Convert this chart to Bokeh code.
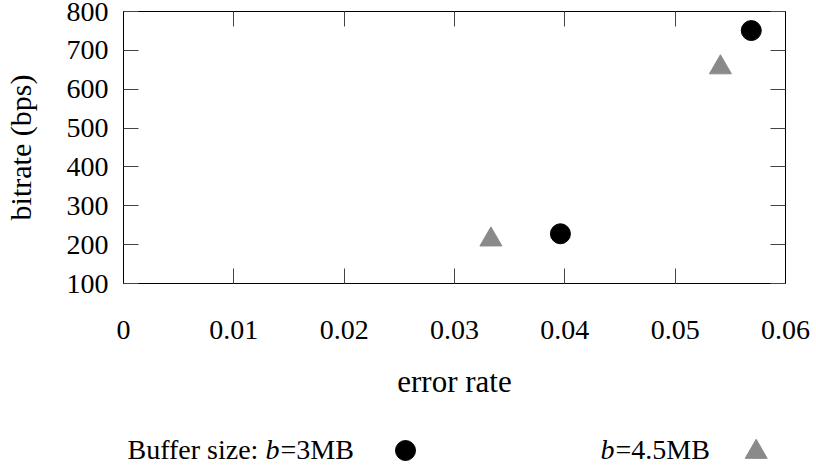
from bokeh.plotting import figure
from bokeh.models import Range1d, FixedTicker, LinearAxis, CustomLabelingPolicy
from bokeh.layouts import column
from bokeh.core.properties import value
from bokeh.embed import file_html
from bokeh.resources import INLINE

# ---- data ----
x_ticks = [0, 0.01, 0.02, 0.03, 0.04, 0.05, 0.06]
x_tick_labels = ["0", "0.01", "0.02", "0.03", "0.04", "0.05", "0.06"]
y_ticks = [100, 200, 300, 400, 500, 600, 700, 800]
y_tick_labels = ["100", "200", "300", "400", "500", "600", "700", "800"]

err_3mb = [0.0396, 0.0569]
bitrate_3mb = [228, 751]
err_45mb = [0.0333, 0.0541]
bitrate_45mb = [213, 656]

x_label = "error rate"
y_label = "bitrate (bps)"
legend_prefix = "Buffer size: "
legend_var = "b"
legend_3mb = "=3MB"
legend_45mb = "=4.5MB"

FONT = "Liberation Serif"
GREY = "#8a8a8a"
TICKC = "#444444"

FRAME_L, FRAME_W, FRAME_T, FRAME_H = 123, 662, 11, 272
W = 812
H1 = 403
LG_H = 63

p = figure(width=W, height=H1, output_backend="svg", toolbar_location=None,
           x_range=Range1d(0, 0.06), y_range=Range1d(100, 800),
           min_border_left=FRAME_L, min_border_right=W - FRAME_L - FRAME_W,
           min_border_top=FRAME_T, min_border_bottom=H1 - FRAME_T - FRAME_H)
p.xgrid.visible = False
p.ygrid.visible = False
p.outline_line_color = "black"
p.outline_line_width = 1
p.outline_line_alpha = 1

no_labels = CustomLabelingPolicy(code="for (const i of indices) indices.unset(i); return indices")

def style_axis(ax, ticks, labels, show):
    ax.ticker = FixedTicker(ticks=ticks)
    ax.major_tick_in = 15
    ax.major_tick_out = 0
    ax.minor_tick_in = 0
    ax.minor_tick_out = 0
    ax.major_tick_line_color = TICKC
    ax.axis_line_color = "black"
    ax.major_label_text_font = FONT
    ax.axis_label_text_font = FONT
    ax.axis_label_text_font_style = "normal"
    ax.major_label_text_color = "black"
    ax.axis_label_text_color = "black"
    if show:
        ax.major_label_overrides = {t: l for t, l in zip(ticks, labels)}
    else:
        ax.major_label_policy = no_labels
        ax.major_label_standoff = 0

xa = p.xaxis[0]
style_axis(xa, x_ticks, x_tick_labels, True)
xa.major_label_text_font_size = "28px"
xa.major_label_standoff = 37
xa.axis_label = x_label
xa.axis_label_text_font_size = "31px"
xa.axis_label_standoff = 22

ya = p.yaxis[0]
style_axis(ya, y_ticks, y_tick_labels, True)
ya.major_label_text_font_size = "28px"
ya.major_label_standoff = 15
ya.axis_label = y_label
ya.axis_label_text_font_size = "30px"
ya.axis_label_standoff = 27

top = LinearAxis()
style_axis(top, x_ticks, x_tick_labels, False)
p.add_layout(top, "above")
right = LinearAxis()
style_axis(right, y_ticks, y_tick_labels, False)
p.add_layout(right, "right")

p.scatter(err_3mb, bitrate_3mb, marker="circle", size=20, color="black")
p.scatter(err_45mb, bitrate_45mb, marker="triangle", size=22, color=GREY)

# ---- legend row (frame aligned with main frame; units = page pixels) ----
lg = figure(width=W, height=LG_H, output_backend="svg", toolbar_location=None,
            x_range=Range1d(FRAME_L, FRAME_L + FRAME_W), y_range=Range1d(0, LG_H),
            min_border=0)
lg.axis.visible = False
lg.xgrid.visible = False
lg.ygrid.visible = False
lg.outline_line_color = None

MID = 17
lg.text(x=[127], y=[MID], text=[legend_prefix], text_font=value(FONT),
        text_font_size="28px", text_baseline="middle", text_color="black")
lg.text(x=[265, 600], y=[MID, MID], text=[legend_var, legend_var], text_font=value(FONT),
        text_font_size="28px", text_font_style="italic", text_baseline="middle",
        text_color="black")
lg.text(x=[280, 615], y=[MID, MID], text=[legend_3mb, legend_45mb], text_font=value(FONT),
        text_font_size="28px", text_baseline="middle", text_color="black")
lg.scatter([405], [16], marker="circle", size=20, color="black")
lg.scatter([755.7], [14.5], marker="triangle", size=22, color=GREY)

layout = column(p, lg, spacing=0)
open("out.html", "w").write(file_html(layout, INLINE))
